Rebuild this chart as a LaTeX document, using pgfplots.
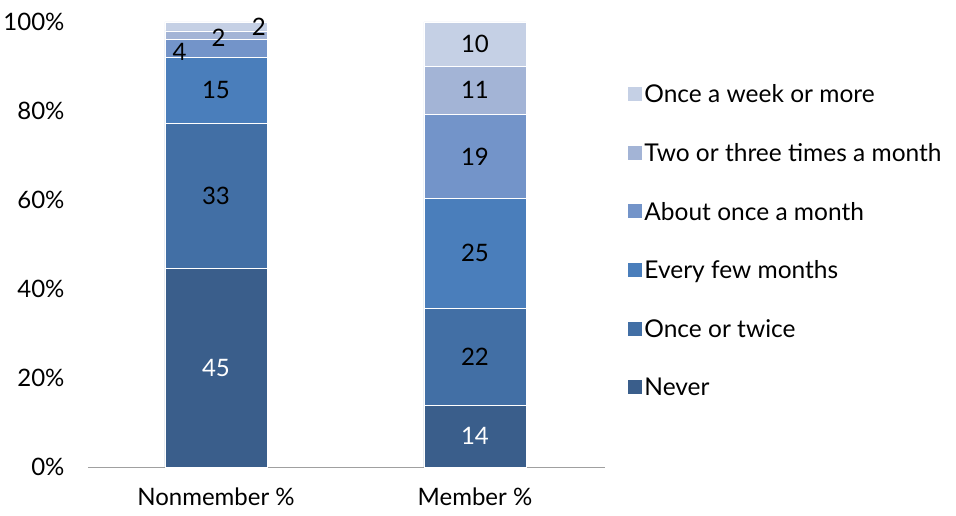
\documentclass[border=0pt]{standalone}
\usepackage{pgfplots}
\pgfplotsset{compat=1.18}
\usepackage{fontspec}
\setmainfont{Lato}
\definecolor{cNever}{RGB}{58,94,139}
\definecolor{cOnce}{RGB}{66,111,165}
\definecolor{cFew}{RGB}{74,126,187}
\definecolor{cMonth}{RGB}{115,148,201}
\definecolor{cTwo}{RGB}{163,180,214}
\definecolor{cWeek}{RGB}{197,208,229}
\begin{document}
\begin{tikzpicture}[font=\fontsize{24bp}{28bp}\selectfont]
\useasboundingbox (-88bp,-49bp) rectangle (868bp,467bp);
\begin{axis}[
  scale only axis, width=517bp, height=445bp,
  ybar stacked, bar width=102bp,
  xmin=-0.494, xmax=1.502, ymin=0, ymax=101,
  xtick={0,1}, xticklabels={Nonmember \%, Member \%},
  ytick={0,20.2,40.4,60.6,80.8,101},
  yticklabels={0\%,20\%,40\%,60\%,80\%,100\%},
  axis lines*=left,
  y axis line style={draw=none},
  x axis line style={draw={rgb,255:red,160;green,160;blue,160}, line width=1bp},
  major tick length=0pt,
  yticklabel style={xshift=-20bp},
  xticklabel style={yshift=-17bp},
  every axis plot/.append style={draw=white, line width=0.6bp},
  legend style={at={(1.036,0.869)}, anchor=north west, draw=none, fill=none,
    row sep=35.2bp, nodes={inner sep=2bp}, font=\fontsize{24.5bp}{29bp}\selectfont},
  legend cell align=left,
  reverse legend,
  legend image code/.code={\fill[#1] (-8bp,-7bp) rectangle (7bp,8bp);},
]
\addplot[fill=cNever] coordinates {(0,45) (1,14)};
\addlegendentry{Never}
\addplot[fill=cOnce] coordinates {(0,33) (1,22)};
\addlegendentry{Once or twice}
\addplot[fill=cFew] coordinates {(0,15) (1,25)};
\addlegendentry{Every few months}
\addplot[fill=cMonth] coordinates {(0,4) (1,19)};
\addlegendentry{About once a month}
\addplot[fill=cTwo] coordinates {(0,2) (1,11)};
\addlegendentry{Two or three times a month}
\addplot[fill=cWeek] coordinates {(0,2) (1,10)};
\addlegendentry{Once a week or more}
\coordinate (a1) at (axis cs:0,22.5);
\coordinate (a2) at (axis cs:0,61.5);
\coordinate (a3) at (axis cs:0,85.5);
\coordinate (a4) at (axis cs:-0.14,94.2);
\coordinate (a5) at (axis cs:0.01,97.4);
\coordinate (a6) at (axis cs:0.166,100);
\coordinate (b1) at (axis cs:1,7);
\coordinate (b2) at (axis cs:1,25);
\coordinate (b3) at (axis cs:1,48.5);
\coordinate (b4) at (axis cs:1,70.5);
\coordinate (b5) at (axis cs:1,85.5);
\coordinate (b6) at (axis cs:1,96);
\end{axis}
\node[white] at (a1) {45};
\node at (a2) {33};
\node at (a3) {15};
\node at (a4) {4};
\node at (a5) {2};
\node at (a6) {2};
\node[white] at (b1) {14};
\node at (b2) {22};
\node at (b3) {25};
\node at (b4) {19};
\node at (b5) {11};
\node at (b6) {10};
\end{tikzpicture}
\end{document}
